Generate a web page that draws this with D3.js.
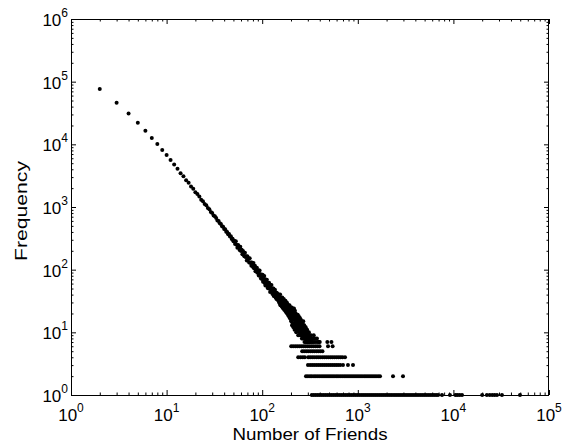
<!DOCTYPE html>
<html><head><meta charset="utf-8">
<script src="https://cdn.jsdelivr.net/npm/d3@7"></script>
<style>
body{margin:0;background:#fff}
svg{display:block}
text{font-family:"Liberation Sans",Arial,Helvetica,sans-serif;fill:#000}
</style>
</head><body>
<svg id="chart" width="568" height="447"></svg>
<script>
// ---------- data ----------
const xTickExps = [0, 1, 2, 3, 4, 5];
const yTickExps = [0, 1, 2, 3, 4, 5, 6];
const xLabel = "Number of Friends";
const yLabel = "Frequency";

// frequencies for degree 2,3,4,... (one per consecutive number of friends)
const headStart = 2;
const headFreq = [
  76700, 45900, 31100, 22000, 16400, 12600, 10100, 8100, 6750, 5600, 4780,
  4090, 3470, 3100, 2680, 2430, 2120, 1960, 1720, 1610, 1470, 1310, 1240, 1120, 1070, 960, 920, 835, 805,
  730, 712, 668, 610, 596, 548, 535, 492, 484, 445, 440, 403, 399, 366, 371, 338, 340, 309, 312, 285,
  290, 257, 283, 249, 224, 247, 229, 206, 233, 199, 207, 176, 198, 181, 164, 186, 159, 164, 140, 163,
  145, 151, 130, 152, 129, 130, 116, 130, 124, 111, 128, 105, 108, 116, 94, 106, 97, 107, 89, 94,
  98, 81, 86, 97, 80, 84, 72, 84, 77, 71,
  83, 64, 73, 67, 79, 61, 70, 56, 64, 69, 58, 69, 58, 51, 61, 57, 50, 62, 52, 55,
  44, 57, 50, 46, 57, 45, 49, 41, 50, 45, 50, 38, 44, 46, 38, 48, 39, 36, 42, 39,
  34, 43, 37, 40, 33, 41, 33, 36, 31, 37,
  37, 29, 33, 40, 27, 31, 35, 28, 34, 26, 32, 36, 25, 29, 33, 24, 30, 34, 27, 23,
  31, 26, 28, 22, 32, 25, 29, 21, 27, 24, 30, 20, 25, 28, 23, 19, 27, 22, 26, 18,
  24, 21, 27, 17, 23, 20, 25, 18, 22, 16,
  15, 22, 18, 25, 13, 20, 17, 23, 14, 19, 21, 12, 18, 16, 24, 14, 19, 11, 17, 22,
  13, 18, 15, 20, 12, 17, 10, 16, 19, 14, 11, 17, 13, 15, 19, 12, 14, 9, 16, 13,
  18, 11, 14, 12, 10, 15, 13, 17, 9, 12, 14, 11, 16, 10, 13, 9, 12, 15, 11, 8,
  13, 10, 12, 14, 9, 11, 8, 12, 15, 10, 9, 12, 11, 8, 13, 10, 7, 11, 9, 12,
  10, 8, 11, 9, 12, 7, 10, 8, 9, 11, 8, 10, 7, 9, 11, 8, 9, 7, 10, 8
];

// sparse tail with frequency >= 7
const tailFriends = [302, 304, 306, 308, 310, 312, 314, 316, 318, 320, 324, 328, 332, 336, 340, 346, 352, 358, 366, 374, 382, 392, 400, 480, 530];
const tailFreq    = [9, 7, 8, 10, 7, 8, 9, 7, 8, 7, 9, 8, 7, 8, 7, 9, 7, 8, 7, 8, 7, 7, 7, 7, 7];

// numbers of friends observed with a small frequency (rows of dots)
const friendsFreq6 = [201, 211, 222, 233, 245, 257, 270, 283, 297, 311, 327, 343, 361, 379, 398, 488, 545];
const friendsFreq5 = [262, 275, 289, 303, 319, 335, 351, 369, 387, 406, 427];
const friendsFreq4 = [238, 252, 266, 279, 303, 318, 334, 350, 368, 386, 405, 426, 447, 469, 492, 517, 542, 569, 598, 627, 658, 691, 735];
const friendsFreq3 = [301, 317, 333, 349, 367, 385, 404, 424, 445, 467, 490, 514, 540, 566, 594, 623, 655, 700, 789, 891];
const friendsFreq2 = [287, 301, 316, 331, 348, 365, 383, 402, 422, 443, 465, 488, 512, 537, 564, 592, 621, 652, 684, 718, 753, 790, 829, 870, 913, 958, 1005, 1055, 1107, 1162, 1219, 1279, 1342, 1408, 1478, 1551, 1628, 1707, 2335, 2970];
const friendsFreq1 = [330, 346, 363, 381, 400, 420, 441, 463, 486, 510, 535, 561, 589, 618, 649, 681, 715, 750, 787, 826, 867, 910, 955, 1002, 1052, 1104, 1159, 1216, 1276, 1339, 1405, 1475, 1548, 1624, 1705, 1789, 1877, 1970, 2068, 2170, 2277, 2390, 2508, 2632, 2762, 2899, 3042, 3193, 3351, 3517, 3691, 3873, 4065, 4266, 4477, 4699, 4931, 5175, 5431, 5700, 5982, 6278, 6589, 6900, 7600, 9200, 10500, 11000, 11600, 12300, 20000, 22400, 24000, 25500, 27000, 28600, 32200, 49700];

// ---------- build point table ----------
const points = [];
headFreq.forEach((f, i) => points.push({x: headStart + i, y: f}));
tailFriends.forEach((fr, i) => points.push({x: fr, y: tailFreq[i]}));
[[friendsFreq1, 1], [friendsFreq2, 2], [friendsFreq3, 3], [friendsFreq4, 4], [friendsFreq5, 5], [friendsFreq6, 6]]
  .forEach(([arr, f]) => arr.forEach(fr => points.push({x: fr, y: f})));

// ---------- layout ----------
const L = 71, R = 549, T = 19, B = 395;
const svg = d3.select("#chart");
const x = d3.scaleLog().domain([Math.pow(10, xTickExps[0]), Math.pow(10, xTickExps[xTickExps.length - 1])]).range([L, R]);
const y = d3.scaleLog().domain([Math.pow(10, yTickExps[0]), Math.pow(10, yTickExps[yTickExps.length - 1])]).range([B, T]);

const minors = exps => {
  const out = [];
  exps.slice(0, -1).forEach(e => { for (let k = 2; k <= 9; k++) out.push(k * Math.pow(10, e)); });
  return out;
};
const xMajor = xTickExps.map(e => Math.pow(10, e));
const yMajor = yTickExps.map(e => Math.pow(10, e));
const xMinor = minors(xTickExps);
const yMinor = minors(yTickExps);

function drawAxis(gen, tr, vals, size) {
  const g = svg.append("g").attr("transform", tr)
    .call(gen.tickValues(vals).tickSize(size).tickFormat(""));
  g.select(".domain").remove();
  g.selectAll("line").attr("stroke", "#000").attr("stroke-width", 1);
}
drawAxis(d3.axisBottom(x), `translate(0,${B})`, xMajor, -5);
drawAxis(d3.axisBottom(x), `translate(0,${B})`, xMinor, -2.5);
drawAxis(d3.axisTop(x), `translate(0,${T})`, xMajor, -5);
drawAxis(d3.axisTop(x), `translate(0,${T})`, xMinor, -2.5);
drawAxis(d3.axisLeft(y), `translate(${L},0)`, yMajor, -5);
drawAxis(d3.axisLeft(y), `translate(${L},0)`, yMinor, -2.5);
drawAxis(d3.axisRight(y), `translate(${R},0)`, yMajor, -5);
drawAxis(d3.axisRight(y), `translate(${R},0)`, yMinor, -2.5);

svg.append("rect").attr("x", L + 0.5).attr("y", T + 0.5)
  .attr("width", R - L - 1).attr("height", B - T)
  .attr("fill", "none").attr("stroke", "#000").attr("stroke-width", 1);

// points
svg.append("g").selectAll("circle").data(points).join("circle")
  .attr("cx", d => x(d.x)).attr("cy", d => y(d.y)).attr("r", 2)
  .attr("fill", "#000");

// tick labels
const xl = svg.append("g").selectAll("text").data(xTickExps).join("text")
  .attr("x", e => x(Math.pow(10, e))).attr("y", 421)
  .attr("text-anchor", "middle").attr("font-size", 17);
xl.append("tspan").text("10");
xl.append("tspan").attr("dy", -9).attr("font-size", 12).text(e => e);

const yl = svg.append("g").selectAll("text").data(yTickExps).join("text")
  .attr("x", 68).attr("y", e => y(Math.pow(10, e)) + 7)
  .attr("text-anchor", "end").attr("font-size", 17);
yl.append("tspan").text("10");
yl.append("tspan").attr("dy", -9).attr("font-size", 12).text(e => e);

// axis titles
svg.append("text").attr("x", (L + R) / 2).attr("y", 440)
  .attr("text-anchor", "middle").attr("font-size", 16)
  .attr("textLength", 155).attr("lengthAdjust", "spacingAndGlyphs").text(xLabel);
svg.append("text").attr("transform", `translate(27,${(T + B) / 2 + 4}) rotate(-90)`)
  .attr("text-anchor", "middle").attr("font-size", 16)
  .attr("textLength", 100).attr("lengthAdjust", "spacingAndGlyphs").text(yLabel);
</script>
</body></html>
